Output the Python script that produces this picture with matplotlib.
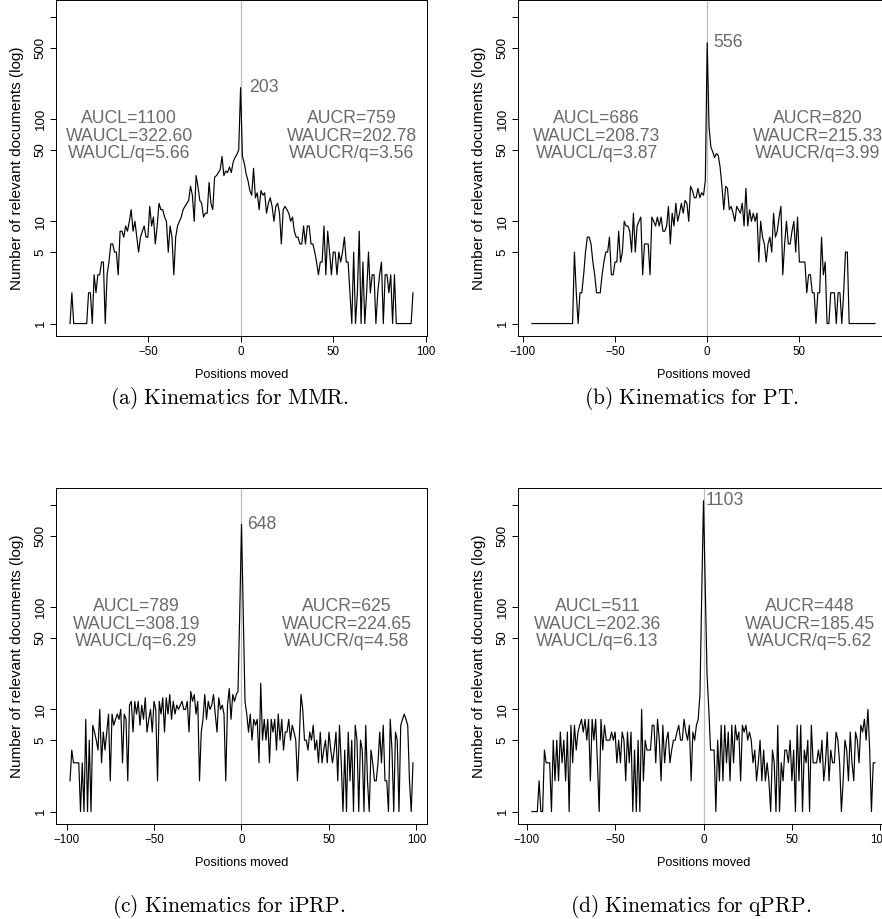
import numpy as np
import matplotlib
matplotlib.use("Agg")
import matplotlib.pyplot as plt

plt.rcParams["font.family"] = "Liberation Sans"
plt.rcParams["mathtext.fontset"] = "cm"
plt.rcParams["axes.linewidth"] = 0.7

# counts of relevant documents per position moved
mmr_pos = np.arange(-92, 94)
mmr_count = [1, 2, 1, 1, 1, 1, 1, 1, 1, 1,
             2, 2, 1, 3, 2, 3, 3, 4, 4, 1,
             3, 4, 6, 6, 5, 5, 3, 8, 8, 7,
             9, 8, 10, 13, 8, 10, 7, 5, 7, 8,
             9, 7, 7, 14, 9, 11, 6, 9, 15, 13,
             13, 11, 10, 5, 9, 7, 3, 7, 9, 10,
             11, 13, 14, 15, 16, 22, 18, 10, 28, 22,
             16, 15, 11, 12, 12, 24, 15, 13, 27, 28,
             30, 32, 43, 28, 31, 30, 34, 30, 38, 42,
             45, 50, 203,
             43, 37, 29, 25, 20, 18, 33, 17, 19, 13,
             20, 18, 19, 12, 15, 17, 14, 10, 14, 15,
             12, 6, 13, 14, 13, 12, 10, 11, 8, 7,
             7, 6, 6, 9, 6, 9, 9, 6, 6, 5,
             4, 3, 4, 4, 9, 3, 8, 5, 3, 5,
             5, 3, 5, 4, 5, 7, 4, 4, 2, 1,
             5, 1, 2, 8, 1, 4, 1, 2, 5, 2,
             3, 3, 1, 2, 3, 4, 1, 3, 3, 2,
             3, 1, 3, 1, 1, 1, 1, 1, 1, 1,
             1, 1, 2]

pt_pos = np.arange(-95, 92)
pt_count = [1] * 23 + [
            5, 2, 1, 2, 2, 3, 5, 7, 7, 6,
            4, 3, 2, 2, 2, 3, 4, 5, 5, 7,
            3, 3, 4, 4, 8, 4, 5, 10, 9, 9,
            8, 5, 12, 5, 9, 10, 11, 3, 6, 6,
            6, 3, 11, 10, 9, 11, 9, 11, 8, 8,
            9, 14, 6, 12, 9, 15, 10, 12, 15, 12,
            16, 15, 10, 22, 20, 17, 17, 21, 17, 19,
            18, 25, 556,
            84, 53, 48, 42, 46, 44, 34, 22, 13, 22,
            21, 13, 14, 12, 10, 14, 13, 12, 15, 9,
            21, 9, 13, 10, 12, 10, 12, 4, 10, 7,
            6, 4, 6, 7, 5, 12, 7, 8, 11, 14,
            3, 6, 10, 6, 6, 8, 10, 5, 11, 4,
            4, 4, 4, 2, 3, 3, 2, 2, 1, 2,
            2, 7, 3, 4, 1, 1, 2, 2, 2, 1,
            2, 2, 1, 2, 5, 5, 1, 1, 1, 1] + [1] * 11

iprp_pos = np.arange(-98, 99)
iprp_count = [2, 4, 3, 3, 3, 3, 1, 3, 1, 8,
              1, 5, 1, 7, 6, 5, 4, 10, 3, 6,
              4, 6, 9, 2, 9, 7, 8, 9, 8, 10,
              3, 9, 8, 2, 11, 12, 6, 12, 9, 12,
              7, 11, 8, 13, 6, 8, 10, 6, 12, 10,
              2, 12, 9, 13, 6, 13, 9, 14, 8, 12,
              9, 11, 10, 11, 12, 10, 10, 12, 6, 15,
              12, 14, 9, 12, 2, 6, 8, 14, 8, 12,
              10, 11, 14, 9, 6, 13, 10, 11, 9, 2,
              11, 16, 8, 14, 12, 14, 15, 90, 648,
              90, 12, 9, 6, 9, 5, 8, 7, 8, 3,
              18, 5, 8, 5, 8, 3, 8, 6, 8, 4,
              9, 5, 8, 4, 6, 6, 8, 5, 7, 6,
              5, 2, 5, 14, 10, 5, 5, 4, 6, 5,
              7, 4, 5, 3, 6, 3, 4, 5, 3, 6,
              4, 3, 4, 6, 2, 7, 3, 1, 4, 1,
              6, 2, 5, 1, 7, 5, 1, 5, 4, 1,
              7, 2, 1, 4, 3, 2, 2, 3, 6, 3,
              7, 2, 2, 1, 8, 4, 1, 6, 5, 1,
              7, 8, 9, 8, 7, 2, 1, 3]

qprp_pos = np.arange(-97, 98)
qprp_count = [1, 1, 1, 1, 2, 1, 1, 4, 3, 3,
              3, 1, 5, 2, 5, 2, 6, 3, 5, 2,
              6, 1, 7, 3, 7, 4, 6, 7, 8, 6,
              8, 5, 8, 2, 8, 5, 8, 3, 1, 8,
              4, 7, 5, 5, 5, 6, 5, 6, 3, 5,
              3, 6, 5, 2, 6, 3, 6, 1, 4, 1,
              5, 1, 10, 2, 5, 4, 4, 4, 7, 7,
              3, 8, 5, 2, 7, 3, 5, 6, 3, 4,
              5, 5, 6, 7, 5, 5, 8, 6, 5, 7,
              2, 6, 5, 7, 8, 14, 135, 1103,
              157, 22, 10, 4, 4, 4, 1, 5, 2, 7,
              2, 7, 3, 6, 2, 7, 3, 7, 5, 6,
              2, 7, 6, 7, 5, 6, 5, 3, 4, 2,
              3, 5, 2, 4, 2, 3, 2, 1, 4, 3,
              1, 7, 1, 3, 2, 4, 4, 3, 5, 2,
              4, 1, 7, 2, 7, 1, 4, 3, 5, 1,
              7, 3, 3, 3, 4, 3, 5, 2, 3, 6,
              2, 4, 3, 3, 6, 5, 3, 1, 2, 5,
              4, 2, 6, 3, 2, 6, 5, 3, 7, 6,
              8, 5, 10, 4, 1, 3, 3]

left_stats = ["AUCL=1100\nWAUCL=322.60\nWAUCL/q=5.66",
              "AUCL=686\nWAUCL=208.73\nWAUCL/q=3.87",
              "AUCL=789\nWAUCL=308.19\nWAUCL/q=6.29",
              "AUCL=511\nWAUCL=202.36\nWAUCL/q=6.13"]
right_stats = ["AUCR=759\nWAUCR=202.78\nWAUCR/q=3.56",
               "AUCR=820\nWAUCR=215.33\nWAUCR/q=3.99",
               "AUCR=625\nWAUCR=224.65\nWAUCR/q=4.58",
               "AUCR=448\nWAUCR=185.45\nWAUCR/q=5.62"]
captions = ["(a) Kinematics for MMR.", "(b) Kinematics for PT.",
            "(c) Kinematics for iPRP.", "(d) Kinematics for qPRP."]
yticks = [1, 5, 10, 50, 100, 500, 1000]
ytick_labels = ["1", "5", "10", "50", "100", "500", ""]

positions = [mmr_pos, pt_pos, iprp_pos, qprp_pos]
counts = [mmr_count, pt_count, iprp_count, qprp_count]

W, H = 882, 919
fig = plt.figure(figsize=(W / 100, H / 100), dpi=100)

# panel boxes in pixels: left, top, right, bottom
boxes = [(56.3, 0, 426.7, 336), (518.3, 0, 888.7, 336),
         (56.3, 488.3, 426.7, 824), (518.3, 488.3, 888.7, 824)]
cap_dy = [63, 63, 82, 82]
peak_dx = [6, 4.5, 4, 1.5]   # points
grey = "#6a6a6a"

ymax = max(max(c) for c in counts)
lr = np.log10(ymax)
ylo, yhi = 10 ** (-0.04 * lr), 10 ** (1.04 * lr)

for k in range(4):
    l, t, r, b = boxes[k]
    ax = fig.add_axes([l / W, 1 - b / H, (r - l) / W, (b - t) / H])
    pos = positions[k]
    cnt = np.array(counts[k])
    ax.axvline(0, color="#bdbdbd", lw=0.9, zorder=1)
    ax.plot(pos, cnt, color="black", lw=0.85, zorder=2)
    ax.set_yscale("log")
    pad = 0.04 * (pos.max() - pos.min())
    ax.set_xlim(pos.min() - pad, pos.max() + pad)
    ax.set_ylim(ylo, yhi)
    xt = [v for v in range(-100, 101, 50) if pos.min() - pad <= v <= pos.max() + pad]
    ax.set_xticks(xt)
    ax.set_yticks(yticks)
    ax.set_yticklabels(ytick_labels)
    ax.minorticks_off()
    ax.tick_params(length=4.5, width=0.7, pad=2.5)
    ax.tick_params(axis="x", labelsize=8.3)
    ax.tick_params(axis="y", labelrotation=90, labelsize=9.5)
    for lab in ax.get_yticklabels():
        lab.set_va("center")

    ax.text(-60, 68, left_stats[k], ha="center", va="center", fontsize=12.7,
            color=grey, linespacing=1.04)
    ax.text(60, 68, right_stats[k], ha="center", va="center", fontsize=12.7,
            color=grey, linespacing=1.04)
    ipk = int(np.argmax(cnt))
    ax.annotate(str(cnt[ipk]), xy=(pos[ipk], cnt[ipk]), xytext=(peak_dx[k], 0),
                textcoords="offset points", ha="left", va="center",
                fontsize=12.7, color=grey)

    cx = (l + r) / 2
    fig.text(cx / W, 1 - (b + 39) / H, "Positions moved", ha="center",
             va="center", fontsize=9.2)
    fig.text((l - 39) / W, 1 - (t + b) / 2 / H,
             "Number of relevant documents (log)", ha="center", va="center",
             rotation=90, fontsize=11)
    fig.text((cx - 12.5) / W, 1 - (b + cap_dy[k]) / H,
             r"$\mathrm{" + captions[k].replace(" ", r"\ ") + "}$",
             ha="center", va="center", fontsize=15.5)

fig.savefig("out.png", dpi=100)
